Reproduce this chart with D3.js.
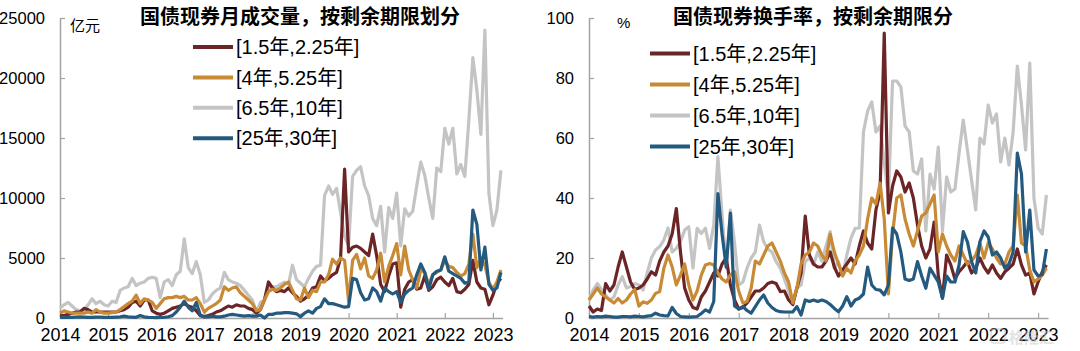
<!DOCTYPE html>
<html>
<head>
<meta charset="utf-8">
<script src="https://cdn.jsdelivr.net/npm/d3@7"></script>
<style>
  body { margin: 0; background: #fff; }
  svg { display: block; }
</style>
</head>
<body>
<svg id="chart" width="1080" height="351"></svg>
<script>
// ---- data: monthly values, Jan 2014 .. Mar 2023 (111 months) ----
const yearTicks = [2014, 2015, 2016, 2017, 2018, 2019, 2020, 2021, 2022, 2023];
const volumeTicks = [0, 5000, 10000, 15000, 20000, 25000];
const turnoverTicks = [0, 20, 40, 60, 80, 100];
const seriesNames = ['[1.5年,2.25年]', '[4年,5.25年]', '[6.5年,10年]', '[25年,30年]'];

// 月成交量 (亿元)
const volume2y = [250,200,300,400,500,500,800,700,500,500,500,500,
  500,500,500,600,700,900,1300,1400,1000,1500,1500,600,
  400,300,400,600,800,900,1000,1200,1000,900,600,200,
  100,200,300,500,600,800,1000,900,1100,1000,1000,800,
  700,400,700,1500,3000,2500,2200,2300,2200,2500,2100,1800,
  1400,1600,1900,2500,2600,3500,3100,3300,3600,3800,5000,12400,
  5500,5900,6000,5800,5500,5200,7000,5200,2800,2200,3500,4500,
  4600,900,2400,3000,3200,2400,2500,3500,2300,2600,3200,3400,
  3000,2700,3300,2200,2100,2400,2800,4800,3000,2500,2400,1100,
  1900,2900,3300];
const volume5y = [400,600,500,400,400,400,400,500,400,700,500,400,
  400,450,500,700,950,1200,1400,1900,1200,1600,1500,1300,
  800,1200,1600,1700,1700,1800,1700,1800,1500,1500,1700,1200,
  500,800,1000,1200,1500,2600,2300,2500,2600,2100,1800,1500,
  1200,600,700,1500,2200,2400,2300,2500,2800,3000,2300,1600,
  1500,2500,1700,2300,2200,3000,3000,3600,4900,4500,5000,4800,
  1400,4800,5300,4100,5000,3500,3300,4000,5400,3000,4300,5200,
  6200,3600,6000,4000,3200,2500,4000,3800,2800,3600,3800,4000,
  4800,4300,4200,3800,3500,3700,4500,7000,4200,5000,4400,3000,
  2400,3000,4000];
const volume10y = [800,1100,1300,1000,700,600,650,1100,1600,1200,1400,1100,
  1000,1400,1300,2300,2500,2600,3300,2700,2900,3000,3300,3400,
  3300,1700,3000,3200,2700,3600,3900,6600,4200,3700,4700,3600,
  1300,1500,2000,2300,2500,3800,3200,3000,2900,2700,2300,1900,
  1500,500,1300,1500,2500,2600,2600,2800,3000,2800,4400,3200,
  2900,2600,3300,3900,4300,4400,10200,11000,10300,10800,8800,6800,
  6000,11800,12300,12600,11000,10200,8300,7700,9300,5500,9200,8300,
  10400,6000,9100,8500,8900,11000,13000,11900,10000,8300,12500,12200,
  15800,14500,15800,12000,12800,11800,16500,21700,19000,15300,24000,10400,
  7700,9000,12300];
const volume30y = [50,80,60,50,80,100,80,50,60,80,70,50,
  60,50,80,100,150,100,80,60,200,100,50,40,
  30,40,60,100,200,500,900,1400,900,600,1300,250,
  100,100,150,100,100,150,250,300,250,200,150,200,
  150,150,250,0,300,300,400,400,450,450,400,350,
  100,400,600,400,800,950,1600,1200,1200,1100,1000,900,
  950,3300,3200,2100,1500,1600,2500,2200,1400,2500,2200,2000,
  2200,1300,2000,2300,2500,3600,4500,3800,2400,3600,3900,4000,
  5100,3900,3700,3500,3300,2900,3000,9000,7800,4000,5900,2800,
  2300,2500,3800];

// 换手率 (%)
const turnover2y = [4,2,3,2.5,11.5,9,11,17,22,17,12,9.5,
  10,11,13,15.4,14.3,19,22,24,28,36.5,22,10,
  6,3.5,3,7,9,12,15,14,18,20,11,6,
  3,3.5,5,7,9,9,10,11.5,12,11.5,8.8,9,
  6,4.5,10,15,34,21,18,17,17,19,22,17,
  14,16,18,20,18,24,29,25,23,36,42,95,
  35,44,49,47,42,45,40,31,24,20,23,32,
  14,6.6,21,17.7,13,15.4,17,18.8,15,16.6,20,17,
  15,17.7,15,13.2,15.4,16.6,18,23,17.7,14.3,15,8,
  12,15.4,17.7];
const turnover5y = [6,8,10,8,7,6,5,6.5,5,6,8,9.5,
  4,5.4,4.9,6,8.2,8.8,16.6,21,17,11,14.3,18,
  11,6,9,14.3,17.7,18.2,17.7,15,13,12,14.3,15.4,
  9,5,5.5,10,19,18,21,24,25,22,19,15,
  12,5,10,18,21,22,25,24,21,19,28,22,
  18,14,16.6,15,19,21,24,33,40,38,45,33,
  8,28,40,41,33,28,24,29,34,35,38,41,
  22,28,24,21,19,24,21,18,19,21,25,20,
  25,23,20,18,18,22,24,41,25,24,16,12,
  13,14.3,16.6];
const turnover10y = [6,9.3,11.5,9.5,7.7,6,7,11,13.8,10,10.5,11.5,
  11,9.3,15,20,22.7,23.8,26,30,22,23.2,25.4,29.3,
  30.4,16.6,29.9,28.2,29.9,23.2,31,53.8,34.3,16.6,36,25,
  11,12,16.6,20,22,31,25.4,23,22,18.8,16.6,13,
  9,5,10,11,18.8,20,17.7,22,19,24,28.8,16.6,
  18.8,14.3,21,26.6,29.9,30,62,69,72,62,64,52,
  40,79,79,77,64,62,49,48,53,29,48,43,
  57,29,47,42,43,55,66,56,46,36,60,58,
  71,65,68,52,60,51,62,84,71,56,85,40,
  30,28,41];
const turnover30y = [0.5,0.3,0.5,0.4,0.6,0.5,0.3,0.3,0.5,0.5,0.4,0.6,
  0.5,0.4,0.6,0.8,1.6,1,0.8,0.7,3.5,1.5,0.5,0.4,
  0.3,0.4,0.5,1.5,2.7,2,5.5,41.5,28,17,35,4,
  3,3.8,2.5,1.6,3.8,6,7.7,5,3.5,2.5,2.1,2,
  2,2,3.8,1,6,5.5,6,5.5,6,5.5,4.5,3.2,
  2.1,4,7.1,4,6,6.6,8,17,11,9.5,9.3,7.7,
  11,30,28,22,13,12.5,13,18.8,14,9.9,16.6,14.3,
  12,6.6,14,12,12,17.7,28.8,25.4,18.8,15,25.4,29,
  27,21,22,20,16.6,18,22,55,48,22,36,16,
  14,14.5,23];

const colors = ['#6c2527', '#c88a35', '#c4c4c4', '#245a80'];
const drawOrder = [2, 0, 1, 3]; // gray below, blue on top
const axisColor = '#a3a3a3';
const tickFont = '"Liberation Sans Narrow", "Arial Narrow", "Liberation Sans", Arial, sans-serif';
const textFont = '"Liberation Sans", Arial, "Noto Sans CJK SC", sans-serif';

const svg = d3.select('#chart');

function drawPanel(p) {
  const top = 18, bottom = 318;
  const x = d3.scaleLinear()
    .domain([2014, 2023.2])
    .range([p.x0, p.x0 + 9.2 * p.pxYear]);
  const y = d3.scaleLinear().domain([0, p.max]).range([bottom, top]);

  const g = svg.append('g');

  // Y axis (ticks pointing inward)
  g.append('g')
    .attr('transform', `translate(${p.x0},0)`)
    .call(d3.axisLeft(y).tickValues(p.yTicks).tickFormat(d3.format('d'))
      .tickSize(-5).tickSizeOuter(0).tickPadding(15))
    .call((a) => a.select('.domain').attr('stroke', axisColor).attr('stroke-width', 1.5))
    .call((a) => a.selectAll('.tick line').attr('stroke', axisColor).attr('stroke-width', 1.2))
    .call((a) => a.selectAll('.tick text')
      .attr('font-family', tickFont).attr('font-size', 16.5).attr('fill', '#000'));

  // X axis
  g.append('g')
    .attr('transform', `translate(0,${bottom})`)
    .call(d3.axisBottom(x).tickValues(yearTicks).tickFormat(d3.format('d'))
      .tickSize(-5).tickSizeOuter(0).tickPadding(10))
    .call((a) => a.select('.domain').attr('stroke', axisColor).attr('stroke-width', 1.5))
    .call((a) => a.selectAll('.tick line').attr('stroke', axisColor).attr('stroke-width', 1.2))
    .call((a) => a.selectAll('.tick text')
      .attr('font-family', tickFont).attr('font-size', 18).attr('fill', '#000'));

  // Lines
  const line = d3.line()
    .x((d, i) => x(2014 + i / 12))
    .y((d) => y(d));

  drawOrder.forEach((k) => {
    g.append('path')
      .attr('fill', 'none')
      .attr('stroke', colors[k])
      .attr('stroke-width', 3.2)
      .attr('stroke-linejoin', 'round')
      .attr('d', line(p.series[k]));
  });

  // Title
  g.append('text')
    .attr('x', p.titleX)
    .attr('y', 24)
    .attr('text-anchor', 'middle')
    .attr('font-family', '"Noto Sans CJK SC", sans-serif')
    .attr('font-weight', 700)
    .attr('font-size', 20)
    .attr('fill', '#000')
    .text(p.title);

  // Unit
  g.append('text')
    .attr('x', p.unitX)
    .attr('y', p.unitY)
    .attr('font-family', textFont)
    .attr('font-size', p.unitSize)
    .attr('fill', '#000')
    .text(p.unit);

  // Legend
  const leg = g.append('g')
    .selectAll('g')
    .data(seriesNames)
    .join('g')
    .attr('transform', (d, i) => `translate(${p.legendX},${p.legendY + i * p.legendGap})`);
  leg.append('line')
    .attr('x1', 0).attr('x2', 40)
    .attr('stroke', (d, i) => colors[i])
    .attr('stroke-width', 4);
  leg.append('text')
    .attr('x', 43)
    .attr('dy', '0.36em')
    .attr('font-family', textFont)
    .attr('font-size', 20)
    .attr('fill', '#000')
    .text((d) => d);
}

drawPanel({
  x0: 60, pxYear: 48.1, max: 25000, yTicks: volumeTicks,
  series: [volume2y, volume5y, volume10y, volume30y],
  title: '国债现券月成交量，按剩余期限划分', titleX: 300,
  unit: '亿元', unitX: 70, unitY: 31, unitSize: 15,
  legendX: 193, legendY: 47, legendGap: 30.4
});

drawPanel({
  x0: 589, pxYear: 49.9, max: 100, yTicks: turnoverTicks,
  series: [turnover2y, turnover5y, turnover10y, turnover30y],
  title: '国债现券换手率，按剩余期限分', titleX: 813,
  unit: '%', unitX: 617, unitY: 28, unitSize: 15,
  legendX: 650, legendY: 53.5, legendGap: 31
});

// faint watermark at bottom right
const wm = svg.append('g').attr('opacity', 0.5);
wm.append('rect')
  .attr('x', 991).attr('y', 329).attr('width', 14).attr('height', 14).attr('rx', 3)
  .attr('fill', 'none').attr('stroke', '#bdbdbd').attr('stroke-width', 1.5);
wm.append('text')
  .attr('x', 1009).attr('y', 343)
  .attr('font-family', '"Noto Sans CJK SC", sans-serif')
  .attr('font-size', 15).attr('font-weight', 700)
  .attr('fill', '#c8c8c8')
  .text('格隆汇');
</script>
</body>
</html>
